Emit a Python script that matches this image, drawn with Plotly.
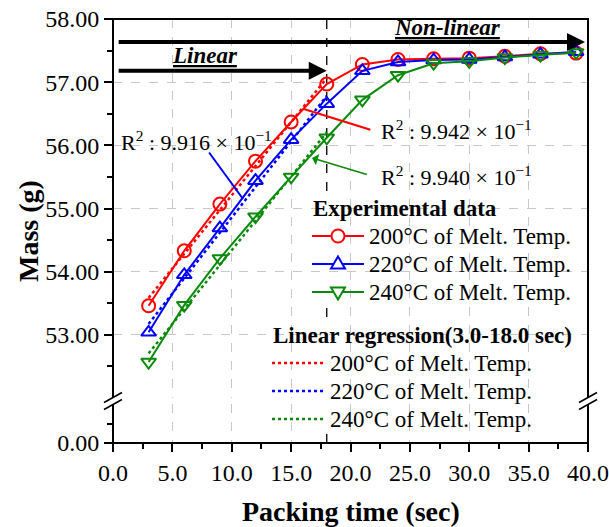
import numpy as np
import plotly.graph_objects as go

# ---------------- data ----------------
packing_time = [3, 6, 9, 12, 15, 18, 21, 24, 27, 30, 33, 36, 39]
mass_200 = [53.46, 54.33, 55.07, 55.75, 56.37, 56.97, 57.28, 57.36, 57.37, 57.38, 57.41, 57.45, 57.46]
mass_220 = [53.04, 53.95, 54.69, 55.44, 56.09, 56.66, 57.18, 57.32, 57.35, 57.36, 57.40, 57.44, 57.48]
mass_240 = [52.57, 53.47, 54.21, 54.87, 55.50, 56.12, 56.72, 57.11, 57.30, 57.33, 57.39, 57.43, 57.47]
series_names = ["200°C of Melt. Temp.", "220°C of Melt. Temp.", "240°C of Melt. Temp."]
r2_labels = ["9.942", "9.916", "9.940"]
x_ticks = [0, 5, 10, 15, 20, 25, 30, 35, 40]
y_ticks_top = [53, 54, 55, 56, 57, 58]
y_minor_top = [52.5, 53.5, 54.5, 55.5, 56.5, 57.5]
y_ticks_low = [0]
y_minor_low = [0.5]
fit_window = (3.0, 18.0)

colors = ["#FF0000", "#0000FF", "#0A8A0A"]
symbols = ["circle-open", "triangle-up-open", "triangle-down-open"]
FONT = "Liberation Serif, Times New Roman, serif"

# page geometry (page body margin is removed by post_script below)
W, H = 609, 527
ml, mr, mt, mb = 113, 21, 19, 84
pw, ph = W - ml - mr, H - mt - mb


def px2paper(px, py):
    return (px - ml) / pw, (H - mb - py) / ph


fig = go.Figure()

# regression lines (3.0-18.0 s)
xa = np.array(packing_time, dtype=float)
for ys, c, n in zip([mass_200, mass_220, mass_240], colors, series_names):
    ya = np.array(ys)
    m = (xa >= fit_window[0]) & (xa <= fit_window[1])
    k, b = np.polyfit(xa[m], ya[m], 1)
    xf = [fit_window[0], fit_window[1]]
    fig.add_trace(go.Scatter(
        x=xf, y=[k * v + b for v in xf], mode="lines", name="Linear regression " + n,
        line=dict(color=c, width=2.5, dash="dot"), showlegend=False))

# experimental data
for ys, c, s, n in zip([mass_200, mass_220, mass_240], colors, symbols, series_names):
    fig.add_trace(go.Scatter(
        x=packing_time, y=ys, mode="lines+markers", name=n,
        line=dict(color=c, width=2),
        marker=dict(symbol=s, size=13, color=c, line=dict(width=2, color=c)),
        showlegend=False))

# empty trace that creates the lower (broken) subplot
fig.add_trace(go.Scatter(x=[], y=[], yaxis="y2", showlegend=False, hoverinfo="skip"))

top_dom0 = px2paper(113, 398)[1]
low_dom1 = px2paper(113, 404)[1]

tickfont = dict(family=FONT, size=24, color="black")
grid = dict(showgrid=True, gridcolor="#C8C8C8", griddash="dash", gridwidth=1)

fig.update_layout(
    width=W, height=H,
    margin=dict(l=ml, r=mr, t=mt, b=mb, autoexpand=False),
    paper_bgcolor="white", plot_bgcolor="white",
    font=dict(family=FONT, color="black"),
    showlegend=False,
    xaxis=dict(domain=[0, 1], anchor="y2", range=[0, 40], tickvals=x_ticks,
               ticktext=[f"{v:.1f}" for v in x_ticks], ticks="outside", ticklen=8,
               tickwidth=1.5, tickcolor="black", tickfont=tickfont, automargin=False,
               minor=dict(ticks="outside", ticklen=5, dtick=2.5, tick0=0, tickcolor="black", showgrid=False),
               zeroline=False, showline=False, **grid),
    yaxis=dict(domain=[top_dom0, 1], anchor="x", range=[52.0, 58.0], tickvals=y_ticks_top,
               ticktext=[f"{v:.2f}" for v in y_ticks_top], ticks="outside", ticklen=8,
               tickwidth=1.5, tickcolor="black", tickfont=tickfont, automargin=False,
               minor=dict(ticks="outside", ticklen=5, tickvals=y_minor_top, tickcolor="black", showgrid=False),
               zeroline=False, showline=False, **grid),
    yaxis2=dict(domain=[0, low_dom1], anchor="x", range=[0, 1.0], tickvals=y_ticks_low,
                ticktext=[f"{v:.2f}" for v in y_ticks_low], ticks="outside", ticklen=8,
                tickwidth=1.5, tickcolor="black", tickfont=tickfont, automargin=False,
                minor=dict(ticks="outside", ticklen=5, tickvals=y_minor_low, tickcolor="black", showgrid=False),
                zeroline=False, showline=False, showgrid=False),
)

shapes = []
# vertical dashed line at end of fit window
shapes.append(dict(type="line", xref="x", yref="paper", x0=fit_window[1], x1=fit_window[1], y0=0, y1=1,
                   line=dict(color="black", width=1.3, dash="dash"), layer="between"))

# ---- hand-built legends (white boxes, glyphs, texts) ----
leg_font = dict(family=FONT, size=23, color="black")
ann = []


def box(x0, y0, x1, y1):
    a = px2paper(x0, y0)
    b = px2paper(x1, y1)
    shapes.append(dict(type="rect", xref="paper", yref="paper", x0=a[0], x1=b[0], y0=b[1], y1=a[1],
                       fillcolor="white", line=dict(width=0), layer="between"))


box(307, 194, 587, 304)
box(266, 321, 582, 433)

tx, ty = px2paper(311, 208)
ann.append(dict(x=tx, y=ty, xref="paper", yref="paper", xanchor="left", yanchor="middle",
                text="<b>Experimental data</b>", showarrow=False, font=leg_font))
tx, ty = px2paper(271, 335)
ann.append(dict(x=tx, y=ty, xref="paper", yref="paper", xanchor="left", yanchor="middle",
                text="<b>Linear regression(3.0-18.0 sec)</b>", showarrow=False, font=leg_font))

marker_paths = [None,
                "M-7,-4.5 L7,-4.5 L0,7.5 Z",
                "M-7,4.5 L7,4.5 L0,-7.5 Z"]
for i, (c, n) in enumerate(zip(colors, series_names)):
    # experimental entry
    py = 236 + 28 * i
    a = px2paper(312, py)
    b = px2paper(364, py)
    shapes.append(dict(type="line", xref="paper", yref="paper", x0=a[0], x1=b[0], y0=a[1], y1=a[1],
                       line=dict(color=c, width=2), layer="above"))
    mc = px2paper(338, py)
    if i == 0:
        shapes.append(dict(type="circle", xref="paper", yref="paper", xsizemode="pixel", ysizemode="pixel",
                           xanchor=mc[0], yanchor=mc[1], x0=-6.5, x1=6.5, y0=-6.5, y1=6.5,
                           fillcolor="white", line=dict(color=c, width=2), layer="above"))
    else:
        shapes.append(dict(type="path", xref="paper", yref="paper", xsizemode="pixel", ysizemode="pixel",
                           xanchor=mc[0], yanchor=mc[1], path=marker_paths[i],
                           fillcolor="white", line=dict(color=c, width=2), layer="above"))
    t = px2paper(367, py)
    ann.append(dict(x=t[0], y=t[1], xref="paper", yref="paper", xanchor="left", yanchor="middle",
                    text=n, showarrow=False, font=leg_font))
    # regression entry
    py = 363 + 28 * i
    a = px2paper(272, py)
    b = px2paper(323, py)
    shapes.append(dict(type="line", xref="paper", yref="paper", x0=a[0], x1=b[0], y0=a[1], y1=a[1],
                       line=dict(color=c, width=2.5, dash="dot"), layer="above"))
    t = px2paper(328, py)
    ann.append(dict(x=t[0], y=t[1], xref="paper", yref="paper", xanchor="left", yanchor="middle",
                    text=n, showarrow=False, font=leg_font))

# frame
shapes.append(dict(type="rect", xref="paper", yref="paper", x0=0, x1=1, y0=0, y1=1,
                   line=dict(color="black", width=2), layer="above"))
# break marks
bx = 9 / pw
by = 5 / ph
off = 3.5 / ph
cy = px2paper(113, 401)[1]
for x0 in (0, 1):
    shapes.append(dict(type="path", xref="paper", yref="paper",
                       path=f"M{x0-bx},{cy-by-off} L{x0+bx},{cy+by-off} L{x0+bx},{cy+by+off} L{x0-bx},{cy-by+off} Z",
                       fillcolor="white", line=dict(width=0), layer="above"))
    for s in (-off, off):
        shapes.append(dict(type="line", xref="paper", yref="paper",
                           x0=x0 - bx, x1=x0 + bx, y0=cy - by + s, y1=cy + by + s,
                           line=dict(color="black", width=1.5), layer="above"))
fig.update_layout(shapes=shapes)

# big arrows
ann.append(dict(x=39.75, y=57.636, ax=0.35, ay=57.636, xref="x", yref="y", axref="x", ayref="y",
                text="", showarrow=True, arrowhead=2, arrowsize=0.9, arrowwidth=4, arrowcolor="black"))
ann.append(dict(x=18.0, y=57.18, ax=0.35, ay=57.18, xref="x", yref="y", axref="x", ayref="y",
                text="", showarrow=True, arrowhead=2, arrowsize=0.9, arrowwidth=4, arrowcolor="black"))
ann.append(dict(x=7.75, y=57.43, xref="x", yref="y", text="<b><i><u>Linear</u></i></b>", showarrow=False,
                font=dict(family=FONT, size=23, color="black")))
ann.append(dict(x=28.2, y=57.87, xref="x", yref="y", text="<b><i><u>Non-linear</u></i></b>", showarrow=False,
                font=dict(family=FONT, size=23, color="black")))
# R^2 labels and leaders
r2_text = [f"R<sup>2</sup> : {r} × 10<sup>−1</sup>" for r in r2_labels]
r2_font = dict(family=FONT, size=22, color="black")
ann.append(dict(x=22.4, y=56.25, xref="x", yref="y", xanchor="left", text=r2_text[0], showarrow=False, font=r2_font))
ann.append(dict(x=0.5, y=56.07, xref="x", yref="y", xanchor="left", text=r2_text[1], showarrow=False, font=r2_font))
ann.append(dict(x=22.4, y=55.52, xref="x", yref="y", xanchor="left", text=r2_text[2], showarrow=False, font=r2_font))
ann.append(dict(x=16.0, y=56.58, ax=21.8, ay=56.24, xref="x", yref="y", axref="x", ayref="y", text="",
                showarrow=True, arrowhead=0, arrowwidth=2, arrowcolor=colors[0]))
ann.append(dict(x=10.95, y=55.15, ax=8.0, ay=55.91, xref="x", yref="y", axref="x", ayref="y", text="",
                showarrow=True, arrowhead=0, arrowwidth=2, arrowcolor=colors[1]))
ann.append(dict(x=16.76, y=55.80, ax=21.5, ay=55.53, xref="x", yref="y", axref="x", ayref="y", text="",
                showarrow=True, arrowhead=1, arrowsize=1.3, arrowwidth=1.5, arrowcolor=colors[2]))
# axis titles
t = px2paper(350, 511)
ann.append(dict(x=0.5, y=t[1], xref="paper", yref="paper", xanchor="center", yanchor="middle",
                text="<b>Packing time (sec)</b>",
                showarrow=False, font=dict(family=FONT, size=28, color="black")))
t = px2paper(28, 231)
ann.append(dict(x=t[0], y=t[1], xref="paper", yref="paper", xanchor="center", yanchor="middle",
                text="<b>Mass (g)</b>",
                textangle=-90, showarrow=False, font=dict(family=FONT, size=28, color="black")))
fig.update_layout(annotations=ann)

fig.write_html("out.html", config={"displayModeBar": False},
               post_script="document.body.style.margin='0';document.body.style.overflow='hidden';")
